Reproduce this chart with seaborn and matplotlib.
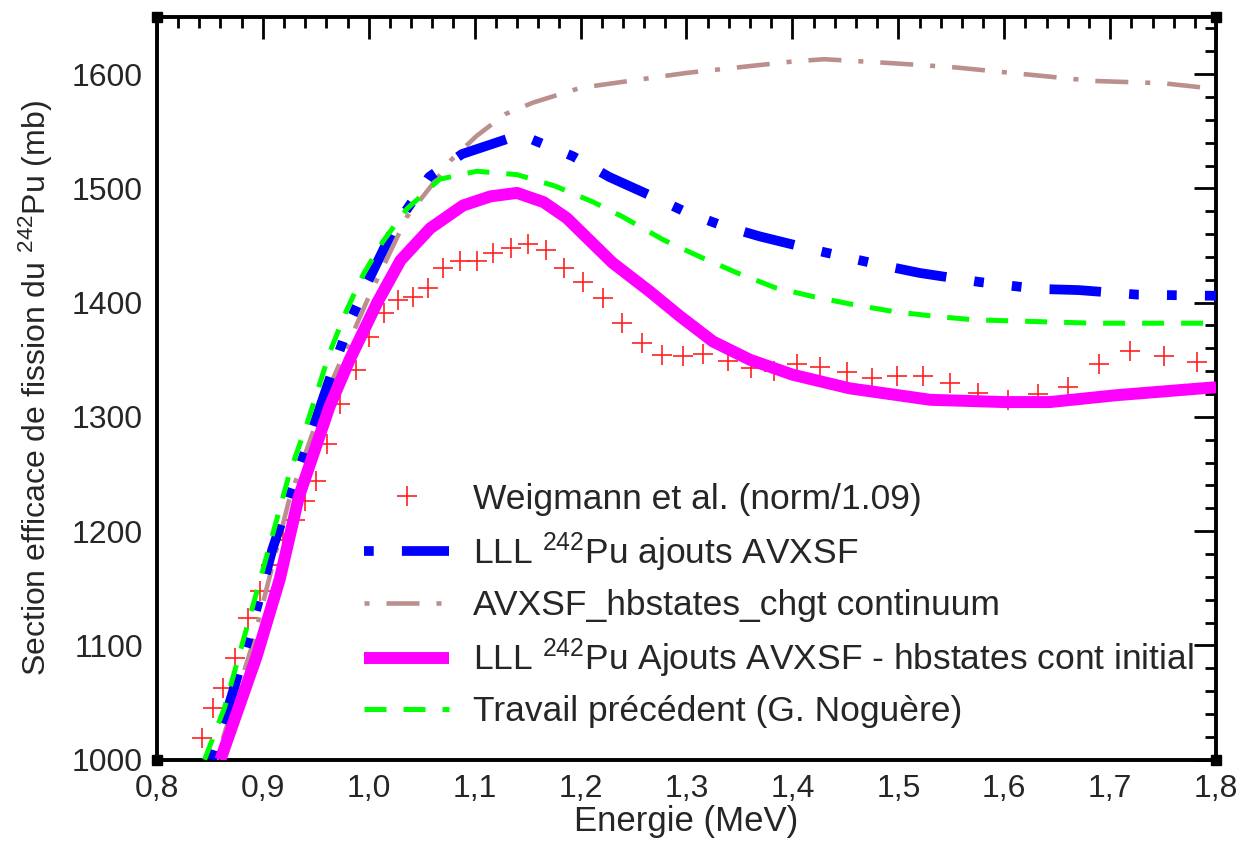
import numpy as np
import pandas as pd
import seaborn as sns
import matplotlib.pyplot as plt
from matplotlib.ticker import MultipleLocator, FuncFormatter

# Data (Energie in MeV, section efficace in mb)
weig_x = [0.843, 0.853, 0.862, 0.874, 0.886, 0.897, 0.908, 0.919, 0.930, 0.940,
          0.950, 0.961, 0.973, 0.988, 1.000, 1.014, 1.028, 1.042, 1.056, 1.070,
          1.086, 1.102, 1.117, 1.134, 1.150, 1.167, 1.184, 1.202, 1.221, 1.239,
          1.258, 1.277, 1.297, 1.316, 1.339, 1.361, 1.383, 1.404, 1.426, 1.452,
          1.475, 1.499, 1.523, 1.549, 1.575, 1.604, 1.632, 1.660, 1.689, 1.719,
          1.751, 1.782]
weig_y = [1019, 1045, 1063, 1089, 1124, 1148, 1170, 1192, 1210, 1226,
          1244, 1276, 1311, 1341, 1370, 1391, 1402, 1405, 1413, 1430,
          1436, 1436, 1443, 1448, 1451, 1446, 1430, 1418, 1404, 1382,
          1365, 1354, 1353, 1355, 1349, 1343, 1340, 1346, 1344, 1339,
          1334, 1336, 1336, 1330, 1321, 1315, 1320, 1326, 1346, 1358,
          1353, 1348]

lll_x = [0.852, 0.872, 0.888, 0.909, 0.932, 0.963, 0.982, 0.998, 1.023, 1.057,
         1.088, 1.143, 1.193, 1.227, 1.270, 1.300, 1.332, 1.369, 1.426, 1.483,
         1.520, 1.577, 1.632, 1.670, 1.726, 1.800]
lll_y = [1000, 1060, 1111, 1184, 1248, 1333, 1383, 1416, 1464, 1510,
         1530, 1547, 1528, 1510, 1492, 1479, 1468, 1458, 1445, 1433,
         1426, 1418, 1412, 1411, 1407, 1406]

chgt_x = [0.856, 0.890, 0.925, 0.960, 1.000, 1.017, 1.036, 1.064, 1.078, 1.102,
          1.129, 1.155, 1.200, 1.300, 1.400, 1.430, 1.486, 1.552, 1.618, 1.684,
          1.750, 1.800]
chgt_y = [1000, 1100, 1228, 1320, 1405, 1438, 1475, 1508, 1525, 1546,
          1565, 1575, 1588, 1601, 1611, 1613, 1610, 1606, 1600, 1594,
          1592, 1587]

init_x = [0.860, 0.894, 0.916, 0.934, 0.963, 0.982, 1.008, 1.030, 1.058, 1.089,
          1.115, 1.140, 1.165, 1.187, 1.230, 1.265, 1.294, 1.325, 1.360, 1.400,
          1.454, 1.530, 1.600, 1.643, 1.706, 1.800]
init_y = [1000, 1090, 1158, 1230, 1309, 1350, 1400, 1437, 1465, 1485,
          1493, 1496, 1488, 1474, 1435, 1410, 1388, 1366, 1350, 1337,
          1325, 1315, 1313, 1313, 1319, 1326]

prec_x = [0.845, 0.864, 0.885, 0.906, 0.925, 0.942, 0.963, 0.978, 0.995, 1.013,
          1.036, 1.067, 1.102, 1.140, 1.176, 1.212, 1.240, 1.278, 1.313, 1.348,
          1.384, 1.421, 1.459, 1.497, 1.535, 1.571, 1.608, 1.684, 1.800]
prec_y = [1000, 1046, 1116, 1186, 1250, 1295, 1356, 1391, 1425, 1453,
          1482, 1508, 1515, 1512, 1502, 1488, 1475, 1455, 1440, 1426,
          1413, 1405, 1398, 1392, 1388, 1385, 1384, 1382, 1382]

sns.set_theme(style='white')
plt.rcParams['font.family'] = ['Liberation Sans', 'DejaVu Sans']
plt.rcParams['mathtext.fontset'] = 'custom'
plt.rcParams['mathtext.rm'] = 'Liberation Sans'
plt.rcParams['mathtext.default'] = 'regular'

fig = plt.figure(figsize=(12.55, 8.47), dpi=100)
ax = fig.add_axes([0.125, 0.103, 0.844, 0.877])

sns.lineplot(x=weig_x, y=weig_y, ax=ax, estimator=None, sort=False,
             linestyle='none', marker='+', markersize=14, markeredgewidth=1.2,
             color='#ff2020', markeredgecolor='#ff2020',
             label='Weigmann et al. (norm/1.09)', zorder=2)
sns.lineplot(x=lll_x, y=lll_y, ax=ax, estimator=None, sort=False,
             color='#0000ff', linewidth=7,
             linestyle=(12.1, (5.3, 2.9, 1, 2.9, 1, 2.9)),
             label='LLL $^{242}$Pu ajouts AVXSF', zorder=4)
sns.lineplot(x=chgt_x, y=chgt_y, ax=ax, estimator=None, sort=False,
             color='#bc8f8f', linewidth=3.3,
             linestyle=(10.9, (7.2, 3.7, 1.1, 3.7)),
             label='AVXSF_hbstates_chgt continuum', zorder=3)
sns.lineplot(x=init_x, y=init_y, ax=ax, estimator=None, sort=False,
             color='#ff00ff', linewidth=8.6, solid_capstyle='butt',
             label='LLL $^{242}$Pu Ajouts AVXSF - hbstates cont initial', zorder=5)
sns.lineplot(x=prec_x, y=prec_y, ax=ax, estimator=None, sort=False,
             color='#00ff00', linewidth=3.6,
             linestyle=(0, (4.4, 3.4)),
             label='Travail précédent (G. Noguère)', zorder=6)

ax.set_xlim(0.8, 1.8)
ax.set_ylim(1000, 1650)
ax.xaxis.set_major_locator(MultipleLocator(0.1))
ax.xaxis.set_minor_locator(MultipleLocator(0.02))
ax.yaxis.set_major_locator(MultipleLocator(100))
ax.yaxis.set_minor_locator(MultipleLocator(20))
ax.xaxis.set_major_formatter(FuncFormatter(lambda v, p: f'{v:.1f}'.replace('.', ',')))
ax.yaxis.set_major_formatter(FuncFormatter(lambda v, p: f'{v:.0f}' if v <= 1600 else ''))

ax.tick_params(which='both', direction='in', top=True, right=True,
               color='black', width=2)
ax.tick_params(which='major', length=16, labelsize=23, pad=10)
ax.tick_params(which='minor', length=8)
for s in ax.spines.values():
    s.set_linewidth(2.8)
    s.set_color('black')

# little black squares on the frame corners (grace style)
ax.plot([0, 1, 0, 1], [0, 0, 1, 1], linestyle='none', marker='s', markersize=7,
        color='black', transform=ax.transAxes, clip_on=False, zorder=10)

ax.set_xlabel('Energie (MeV)', fontsize=25, labelpad=1)
ax.set_ylabel('Section efficace de fission du $^{242}$Pu (mb)', fontsize=23, labelpad=12)

ax.legend(loc='upper left', bbox_to_anchor=(0.196, 0.373), frameon=False,
          fontsize=25.5, handlelength=2.4, handletextpad=0.65, labelspacing=0.42,
          borderpad=0, borderaxespad=0, numpoints=1)

fig.savefig('out.png', dpi=100)
